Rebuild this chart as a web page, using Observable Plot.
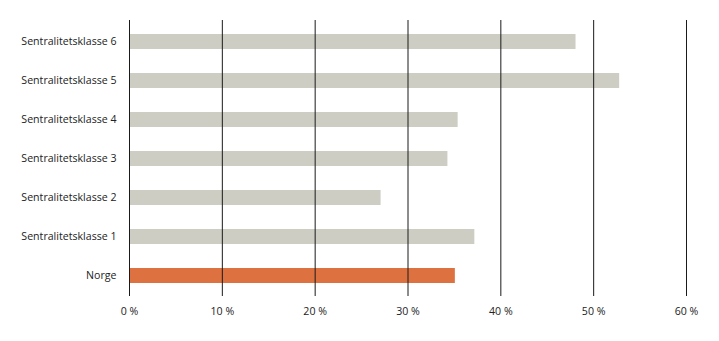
<!DOCTYPE html>
<html>
<head>
<meta charset="utf-8">
<script src="https://cdn.jsdelivr.net/npm/d3@7"></script>
<script src="https://cdn.jsdelivr.net/npm/@observablehq/plot@0.6"></script>
<style>
  html, body { margin: 0; padding: 0; background: #fff; }
  #chart svg { display: block; }
</style>
</head>
<body>
<div id="chart"></div>
<script>
const categories = ["Sentralitetsklasse 6", "Sentralitetsklasse 5", "Sentralitetsklasse 4", "Sentralitetsklasse 3", "Sentralitetsklasse 2", "Sentralitetsklasse 1", "Norge"];
const values = [48.1, 52.8, 35.4, 34.3, 27.1, 37.2, 35.1];
const highlight = ["Norge"];
const xTicks = [0, 10, 20, 30, 40, 50, 60];

const data = categories.map((c, i) => ({category: c, value: values[i], hl: highlight.includes(c)}));

const chart = Plot.plot({
  width: 719,
  height: 341,
  marginLeft: 129,
  marginRight: 33,
  marginTop: 20,
  marginBottom: 45,
  style: {fontFamily: "'Open Sans', sans-serif", fontSize: "10.6px", color: "#222"},
  x: {domain: [0, 60], ticks: xTicks, tickFormat: d => d + " %", tickSize: 0, tickPadding: 11, label: null},
  y: {domain: categories, paddingInner: 0.62, paddingOuter: 0.34, tickSize: 0, tickPadding: 13, label: null},
  marks: [
    Plot.barX(data, {x: "value", y: "category", fill: d => d.hl ? "#dd7240" : "#cdcdc4"}),
    Plot.ruleX(xTicks, {stroke: "#1a1a1a", strokeWidth: 1})
  ]
});
document.getElementById("chart").appendChild(chart);
</script>
</body>
</html>
